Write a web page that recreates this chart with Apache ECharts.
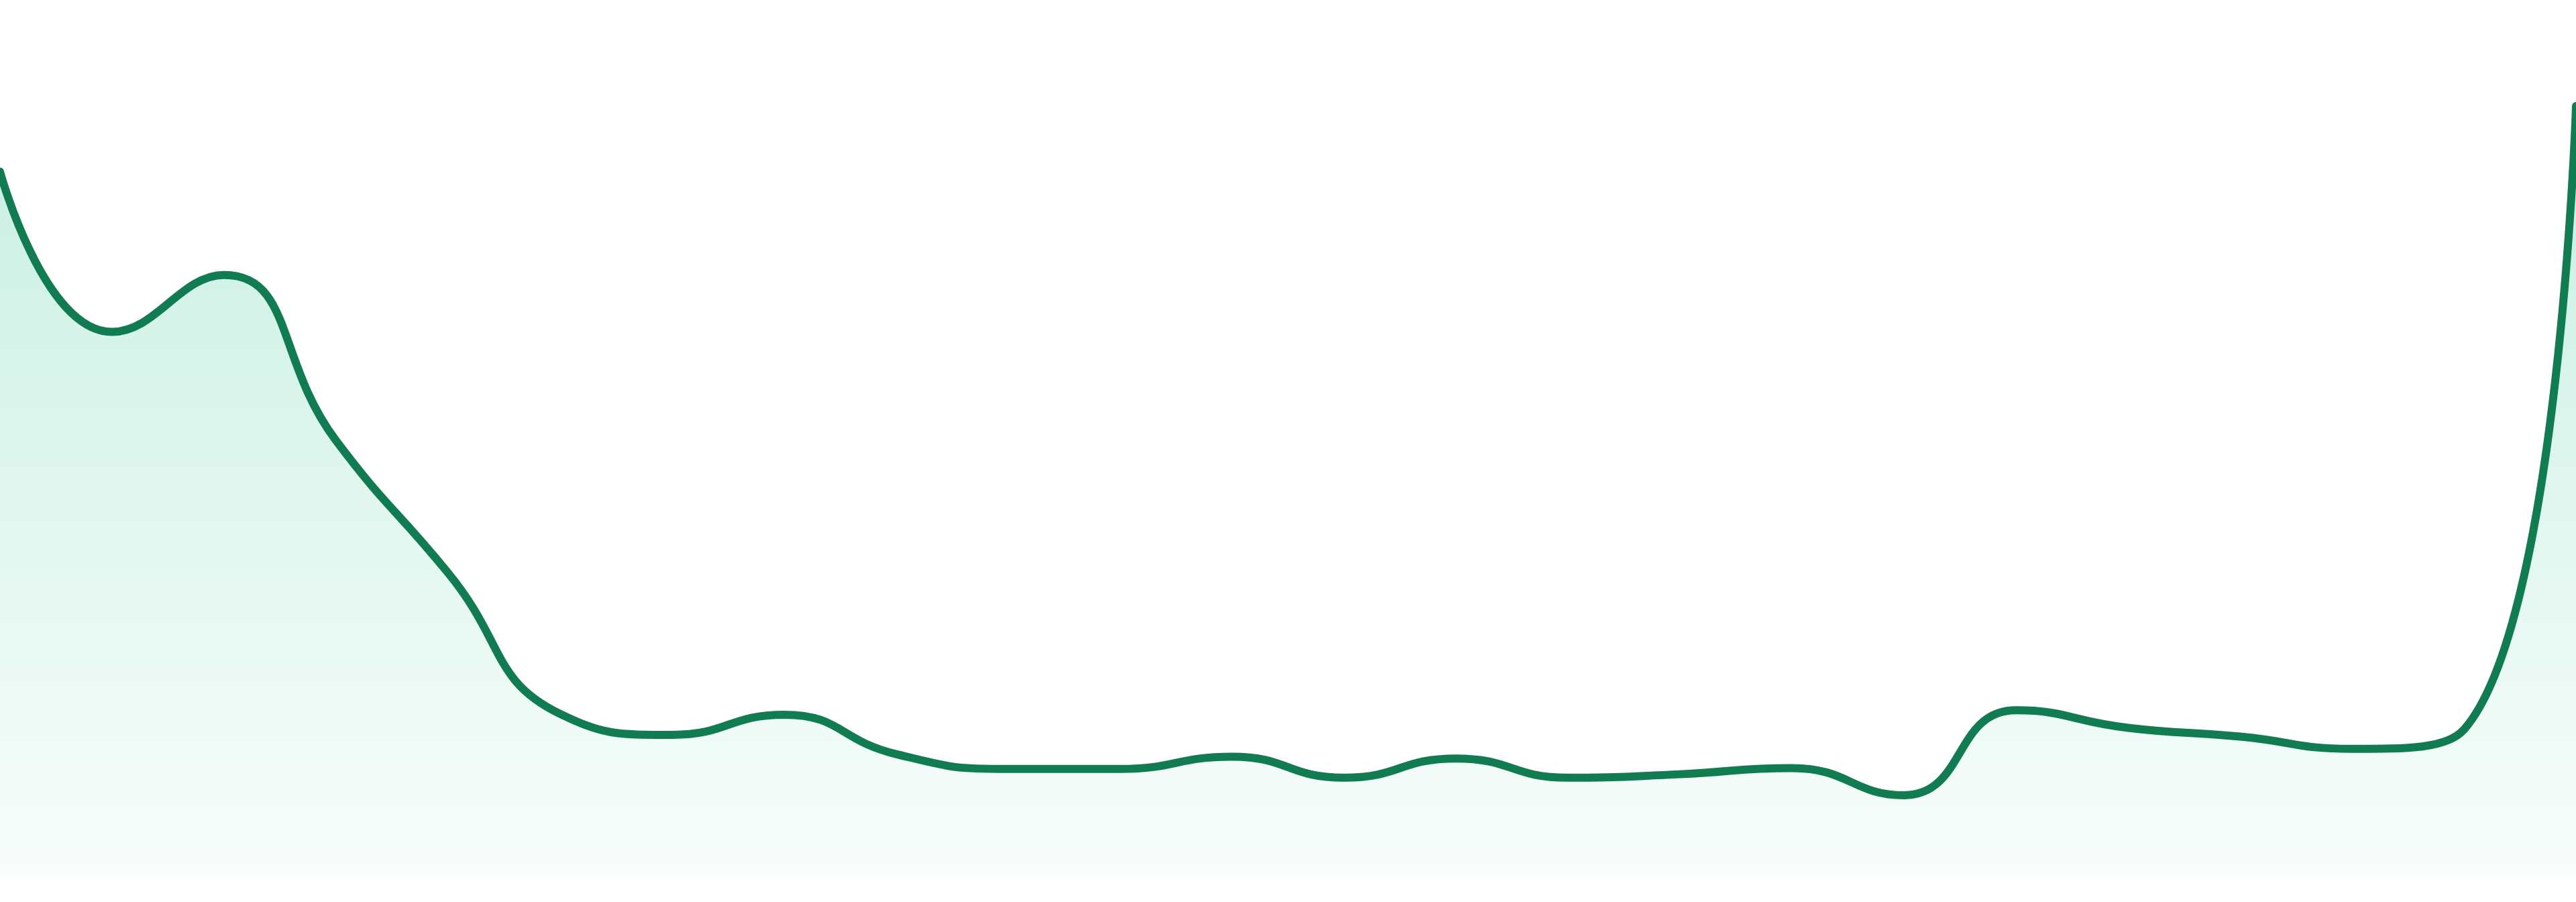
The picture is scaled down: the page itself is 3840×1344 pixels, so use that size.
<!DOCTYPE html>
<html>
<head>
<meta charset="utf-8">
<script src="https://cdn.jsdelivr.net/npm/echarts@6/dist/echarts.min.js"></script>
<style>
html,body{margin:0;padding:0;background:#ffffff;}
#chart{width:3840px;height:1344px;}
</style>
</head>
<body>
<div id="chart"></div>
<script>
const categories = ['1','2','3','4','5','6','7','8','9','10','11','12','13','14','15','16','17','18','19','20','21','22','23','24'];
const values = [80.4, 62.1, 68.6, 49.7, 34.6, 18.5, 16.1, 18.4, 13.9, 12.2, 12.2, 13.6, 11.2, 13.4, 11.2, 11.6, 12.3, 9.2, 18.9, 16.9, 15.9, 14.5, 16.7, 87.9];
const yMin = 0;
const yMax = 100;

const chart = echarts.init(document.getElementById('chart'));
chart.setOption({
  animation: false,
  backgroundColor: '#ffffff',
  grid: {left: 0, right: 0, top: 0, bottom: 39, containLabel: false},
  xAxis: {type: 'category', data: categories, boundaryGap: false, show: false},
  yAxis: {type: 'value', min: yMin, max: yMax, show: false},
  series: [{
    type: 'line',
    data: values,
    smooth: true,
    symbol: 'none',
    lineStyle: {color: '#117b52', width: 12, cap: 'round', join: 'round'},
    areaStyle: {
      color: new echarts.graphic.LinearGradient(0, 0, 0, 1, [
        {offset: 0, color: 'rgba(16,185,129,0.33)'},
        {offset: 1, color: 'rgba(16,185,129,0.04)'}
      ])
    }
  }]
});
</script>
</body>
</html>
